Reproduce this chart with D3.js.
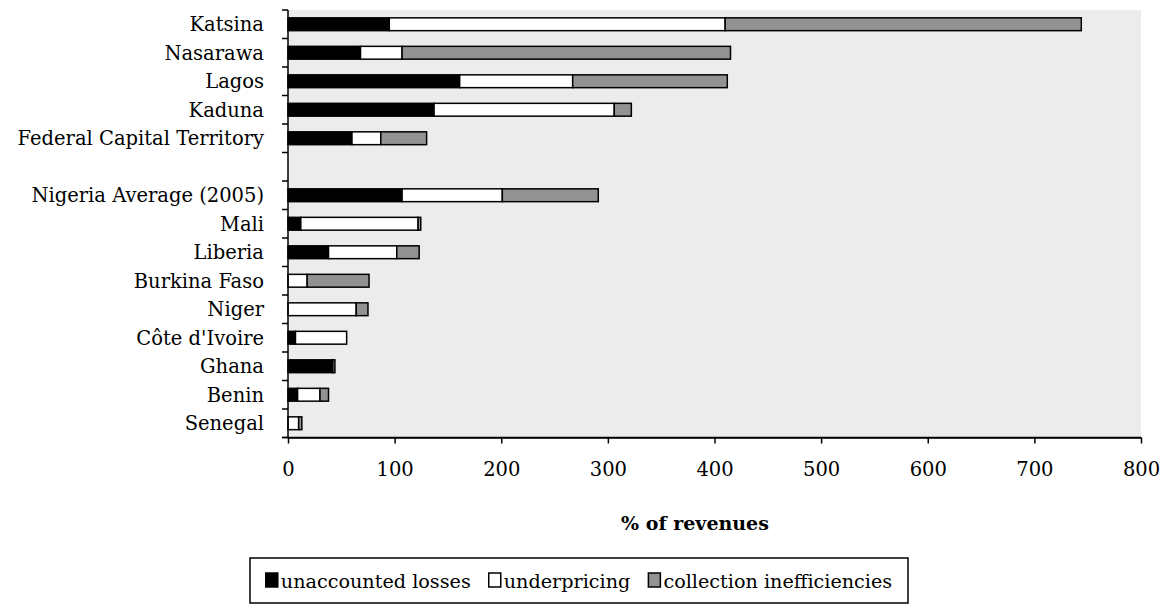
<!DOCTYPE html>
<html><head><meta charset="utf-8">
<script src="https://cdn.jsdelivr.net/npm/d3@7/dist/d3.min.js"></script>
<style>body{margin:0;background:#fff}svg{display:block}text{font-family:"DejaVu Serif",serif;fill:#000}</style>
</head><body>
<svg id="c" width="1167" height="613"></svg>
<script>
const categories = ["Katsina","Nasarawa","Lagos","Kaduna","Federal Capital Territory"," ","Nigeria Average (2005)","Mali","Liberia","Burkina Faso","Niger","Côte d'Ivoire","Ghana","Benin","Senegal"];
const unaccounted = [95,68,161,137,60,0,107,12,38,0,0,7,42,9,0];
const underpricing = [315,39,106,169,27,0,94,110,64,18,64,48,0,21,10];
const collection = [334,308,145,16,43,0,90,2.5,21,58,11,0,2,8,3];
const seriesNames = ["unaccounted losses","underpricing","collection inefficiencies"];
const xTicks = [0,100,200,300,400,500,600,700,800];

const fills = ["#000000","#ffffff","#929292"];
const svg = d3.select("#c");
const L = 288, R = 1141, T = 10, B = 437.5;
const x = d3.scaleLinear().domain([0,800]).range([L,R]);
const y = d3.scaleBand().domain(categories).range([T,B]).paddingInner(0.55).paddingOuter(0.275);

svg.append("rect").attr("x",L).attr("y",T).attr("width",R-L).attr("height",B-T).attr("fill","#ececec");

const rows = categories.map((c,i)=>({c, v:[unaccounted[i],underpricing[i],collection[i]]}));
rows.forEach(r=>{
  let acc = 0;
  r.v.forEach((v,k)=>{
    if(v>0){
      svg.append("rect").attr("x",x(acc)).attr("y",y(r.c)).attr("width",x(acc+v)-x(acc)).attr("height",y.bandwidth())
        .attr("fill",fills[k]).attr("stroke","#000").attr("stroke-width",1.5);
    }
    acc += v;
  });
});

// y axis
svg.append("line").attr("x1",L).attr("x2",L).attr("y1",T).attr("y2",B).attr("stroke","#000").attr("stroke-width",1.5);
const step = (B-T)/categories.length;
d3.range(categories.length+1).forEach(i=>{
  svg.append("line").attr("x1",L-6).attr("x2",L).attr("y1",T+i*step).attr("y2",T+i*step).attr("stroke","#000").attr("stroke-width",1.5);
});
categories.forEach(c=>{
  svg.append("text").attr("x",264).attr("y",y(c)+y.bandwidth()/2).attr("dy","0.36em").attr("text-anchor","end")
    .attr("font-size",19.5).text(c);
});

// x axis
const xa = svg.append("g").attr("transform",`translate(0,${B})`).call(d3.axisBottom(x).tickValues(xTicks).tickSize(6).tickSizeOuter(0).tickPadding(19));
xa.select(".domain").attr("stroke","#000").attr("stroke-width",1.5);
xa.selectAll(".tick line").attr("stroke","#000").attr("stroke-width",1.5);
xa.selectAll(".tick text").attr("font-family","DejaVu Serif").attr("font-size",19.5).attr("fill","#000");
svg.append("line").attr("x1",L-6).attr("x2",R).attr("y1",B).attr("y2",B).attr("stroke","#000").attr("stroke-width",1.5);

svg.append("text").attr("x",695).attr("y",530).attr("text-anchor","middle").attr("font-weight","bold").attr("font-size",19).text("% of revenues");

// legend
const lg = svg.append("g");
const bx = 250, bw = 658;
lg.append("rect").attr("x",bx).attr("y",558).attr("width",bw).attr("height",45).attr("fill","#fff").attr("stroke","#000").attr("stroke-width",1.5);
const items = seriesNames.map((n,k)=>{
  const g = lg.append("g");
  g.append("rect").attr("x",0).attr("y",573).attr("width",12).attr("height",14).attr("fill",fills[k]).attr("stroke","#000").attr("stroke-width",1.5);
  const t = g.append("text").attr("x",15).attr("y",588).attr("font-size",19.2).text(n);
  return {g, w: 15 + t.node().getComputedTextLength()};
});
const total = d3.sum(items, d=>d.w);
const gap = 18;
let cx = bx + (bw - total - gap*2)/2;
items.forEach(it=>{ it.g.attr("transform",`translate(${cx},0)`); cx += it.w + gap; });
</script>
</body></html>
